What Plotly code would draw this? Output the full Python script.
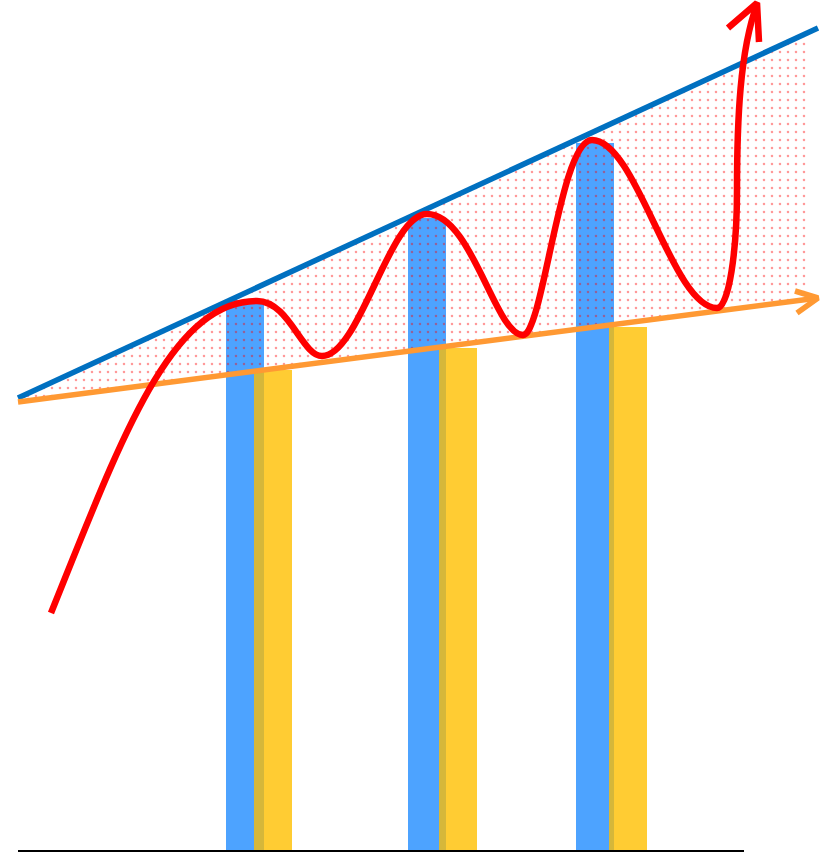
import plotly.graph_objects as go
import numpy as np

# ---- data (chart units: x across, y up from the baseline) ----
bar_blue_x = [245, 427, 595]
bar_blue_h = [551, 633, 708]
bar_yellow_x = [273, 458, 628]
bar_yellow_h = [481, 503, 524]
bar_width = 38

upper_line_x = [18, 818]
upper_line_y = [453, 823]
lower_line_x = [18, 818]
lower_line_y = [449, 553]
lower_head_x = [795, 818, 797]
lower_head_y = [560, 553, 538]

# red curve: knots, travel direction (deg) at each knot, handle lengths in/out
curve_knot_x = [51, 257, 322, 427, 523, 592, 717, 737, 757]
curve_knot_y = [238, 550, 495, 637, 516, 711, 543, 661, 847]
curve_knot_angle = [68, 0, 0, 0, 0, 0, 0, 90, 70]
curve_handle_in = [0, 87, 20, 38, 28, 32, 45, 60, 50]
curve_handle_out = [186, 32, 38, 45, 20, 45, 12, 70, 0]
curve_head_x = [728, 757, 759]
curve_head_y = [823, 848, 809]

fill_x_range = [18, 808]
baseline_x = [18, 744]

BLUE_BAR = "#4DA3FF"
YELLOW_BAR = "#FFCC33"
OVERLAP = "#D6B73A"

fig = go.Figure()

# bars
fig.add_trace(go.Bar(x=bar_blue_x, y=bar_blue_h, width=bar_width,
                     marker=dict(color=BLUE_BAR, line=dict(width=0))))
fig.add_trace(go.Bar(x=bar_yellow_x, y=bar_yellow_h, width=bar_width,
                     marker=dict(color=YELLOW_BAR, line=dict(width=0))))
# overlap region of each pair (derived from the bars)
ov_x, ov_w, ov_h = [], [], []
for bx, yx, bh, yh in zip(bar_blue_x, bar_yellow_x, bar_blue_h, bar_yellow_h):
    left = yx - bar_width / 2
    right = bx + bar_width / 2
    ov_x.append((left + right) / 2)
    ov_w.append(right - left)
    ov_h.append(min(bh, yh))
fig.add_trace(go.Bar(x=ov_x, y=ov_h, width=ov_w,
                     marker=dict(color=OVERLAP, line=dict(width=0))))

# dotted fill between the two trend lines
fx = np.array(fill_x_range, dtype=float)
fy_low = np.interp(fx, lower_line_x, lower_line_y)
fy_up = np.interp(fx, upper_line_x, upper_line_y)
fig.add_trace(go.Scatter(x=fx, y=fy_low, mode="lines", line=dict(width=0),
                         hoverinfo="skip"))
fig.add_trace(go.Scatter(x=fx, y=fy_up, mode="lines", line=dict(width=0),
                         fill="tonexty", fillcolor="rgba(0,0,0,0)",
                         fillpattern=dict(shape=".", fgcolor="#ff0000", fgopacity=0.4,
                                          bgcolor="rgba(0,0,0,0)", size=8, solidity=0.08),
                         hoverinfo="skip"))

# trend lines
fig.add_trace(go.Scatter(x=upper_line_x, y=upper_line_y, mode="lines",
                         line=dict(color="#0070C0", width=5.5)))
fig.add_trace(go.Scatter(x=lower_line_x, y=lower_line_y, mode="lines",
                         line=dict(color="#FF9933", width=5.5)))
fig.add_trace(go.Scatter(x=lower_head_x, y=lower_head_y, mode="lines",
                         line=dict(color="#FF9933", width=5.5)))

# baseline
fig.add_trace(go.Scatter(x=baseline_x, y=[0, 0], mode="lines",
                         line=dict(color="black", width=2)))

# red wavy curve as a bezier path in data coordinates
def pt(x, y):
    return f"{x:.2f},{y:.2f}"

path = "M " + pt(curve_knot_x[0], curve_knot_y[0])
for i in range(len(curve_knot_x) - 1):
    a0 = np.radians(curve_knot_angle[i])
    a1 = np.radians(curve_knot_angle[i + 1])
    c1x = curve_knot_x[i] + curve_handle_out[i] * np.cos(a0)
    c1y = curve_knot_y[i] + curve_handle_out[i] * np.sin(a0)
    c2x = curve_knot_x[i + 1] - curve_handle_in[i + 1] * np.cos(a1)
    c2y = curve_knot_y[i + 1] - curve_handle_in[i + 1] * np.sin(a1)
    path += " C " + pt(c1x, c1y) + " " + pt(c2x, c2y) + " " + pt(curve_knot_x[i + 1], curve_knot_y[i + 1])

fig.add_shape(type="path", path=path, xref="x", yref="y",
              line=dict(color="#FF0000", width=6.5), layer="above")
fig.add_trace(go.Scatter(x=curve_head_x, y=curve_head_y, mode="lines",
                         line=dict(color="#FF0000", width=6.5)))

fig.update_layout(
    width=821, height=853,
    margin=dict(l=0, r=0, t=0, b=0),
    paper_bgcolor="white", plot_bgcolor="white",
    showlegend=False, barmode="overlay", bargap=0,
    xaxis=dict(range=[0, 821], visible=False, fixedrange=True),
    yaxis=dict(range=[-2, 851], visible=False, fixedrange=True),
)

fig.write_html("out.html", config={"displayModeBar": False},
               post_script="document.body.style.margin='0';document.body.style.overflow='hidden';")
